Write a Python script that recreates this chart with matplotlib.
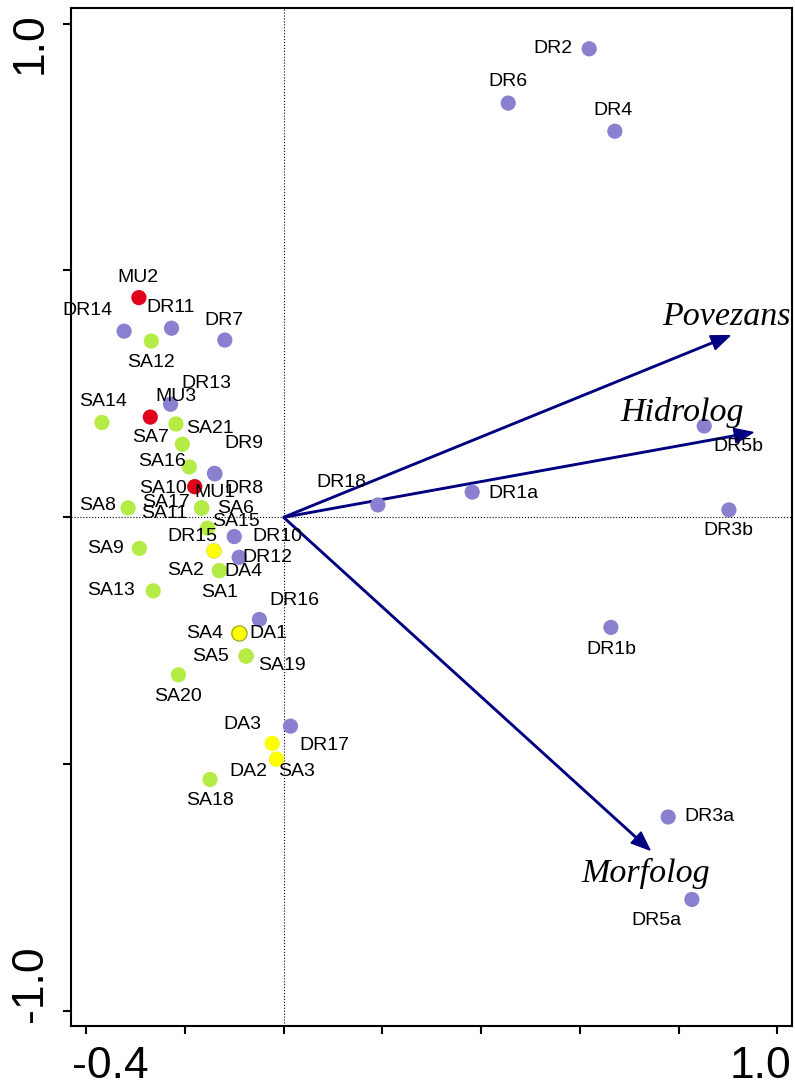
import matplotlib
matplotlib.use("Agg")
import matplotlib.pyplot as plt

plt.rcParams['font.family'] = ['Liberation Sans', 'DejaVu Sans']

# site scores (axis 1, axis 2)
dr_names = ["DR2", "DR6", "DR4", "DR14", "DR11", "DR7", "DR13", "DR9", "DR8", "DR15",
            "DR10", "DR12", "DR16", "DR17", "DR18", "DR1a", "DR5b", "DR3b", "DR1b", "DR3a", "DR5a"]
dr_x = [0.619, 0.455, 0.671, -0.323, -0.227, -0.119, -0.229, -0.140, -0.139, -0.141,
        -0.100, -0.090, -0.049, 0.014, 0.191, 0.382, 0.852, 0.902, 0.663, 0.779, 0.827]
dr_y = [0.949, 0.839, 0.782, 0.377, 0.383, 0.359, 0.229, 0.089, 0.088, -0.068,
        -0.039, -0.081, -0.207, -0.423, 0.025, 0.051, 0.185, 0.015, -0.223, -0.607, -0.774]

sa_names = ["SA12", "SA14", "SA21", "SA7", "SA16", "SA10", "SA8", "SA17", "SA11", "SA6",
            "SA15", "SA9", "SA2", "SA1", "SA13", "SA4", "SA5", "SA19", "SA20", "SA3", "SA18"]
sa_x = [-0.268, -0.368, -0.218, -0.205, -0.191, -0.180, -0.315, -0.166, -0.166, -0.166,
        -0.154, -0.292, -0.130, -0.130, -0.264, -0.091, -0.076, -0.076, -0.213, -0.014, -0.149]
sa_y = [0.357, 0.192, 0.189, 0.148, 0.102, 0.062, 0.019, 0.019, 0.019, 0.019,
        -0.022, -0.063, -0.108, -0.108, -0.149, -0.235, -0.281, -0.281, -0.319, -0.490, -0.531]

mu_names = ["MU2", "MU3", "MU1"]
mu_x = [-0.293, -0.270, -0.180]
mu_y = [0.445, 0.203, 0.062]

da_names = ["DA4", "DA1", "DA3", "DA2"]
da_x = [-0.141, -0.091, -0.023, -0.014]
da_y = [-0.068, -0.235, -0.458, -0.490]

# environmental variables (arrow tips)
env_names = ["Povezans", "Hidrolog", "Morfolog"]
env_x = [0.904, 0.951, 0.742]
env_y = [0.368, 0.172, -0.674]

# label placement, pixels from the point (right, down)
label_off = {
    "DR2": (-36, 0), "DR6": (0, -22), "DR4": (-2, -21), "DR14": (-37, -21), "DR11": (-1, -21),
    "DR7": (-1, -20), "DR13": (36, -21), "DR9": (29, -30), "DR8": (29, 15), "DR15": (-22, -14),
    "DR10": (43, 0), "DR12": (28, 0), "DR16": (35, -19), "DR17": (34, 19), "DR18": (-37, -22),
    "DR1a": (41, 1), "DR5b": (34, 21), "DR3b": (-1, 21), "DR1b": (0, 22), "DR3a": (41, 0),
    "DR5a": (-35, 21),
    "MU2": (-1, -20), "MU3": (26, -21), "MU1": (20, 6),
    "SA12": (0, 21), "SA14": (1, -21), "SA21": (34, 5), "SA7": (-32, -7), "SA16": (-27, -5),
    "SA10": (-32, 2), "SA8": (-31, -2), "SA17": (-36, -5), "SA11": (-37, 6), "SA6": (34, 1),
    "SA15": (28, -7), "SA9": (-34, 0), "SA2": (-34, 0), "SA1": (0, 22), "SA13": (-42, 0),
    "SA4": (-34, 0), "SA5": (-36, 0), "SA19": (36, 9), "SA20": (0, 22), "SA3": (20, 12),
    "SA18": (0, 21),
    "DA4": (29, 21), "DA1": (30, 0), "DA3": (-30, -19), "DA2": (-28, 12),
}
env_off = {"Povezans": (-3, -19), "Hidrolog": (-71, -20), "Morfolog": (-4, 23)}

PURPLE = "#8A80D0"
GREEN = "#B5EB45"
RED = "#E0001B"
YELLOW = "#FFFF00"
NAVY = "#000080"

fig = plt.figure(figsize=(7.95, 10.86), dpi=100)
ax = fig.add_axes([71 / 795, 1 - 1026 / 1086, 721 / 795, 1017.7 / 1086])
ax.set_xlim(-0.4306, 1.0298)
ax.set_ylim(-1.0304, 1.031)

ax.axhline(0, color="black", ls=":", lw=0.8, zorder=1)
ax.axvline(0, color="black", ls=":", lw=0.8, zorder=1)

for name, ex, ey in zip(env_names, env_x, env_y):
    ax.arrow(0, 0, ex, ey, width=0.003, head_width=0.03, head_length=0.038,
             length_includes_head=True, color=NAVY, zorder=2)
    dx, dy = env_off[name]
    ax.annotate(name, (ex, ey), xytext=(dx, -dy), textcoords="offset pixels",
                ha="center", va="center", fontsize=24.5, style="italic",
                family="Liberation Serif", zorder=5)

groups = [(dr_names, dr_x, dr_y, PURPLE),
          (sa_names, sa_x, sa_y, GREEN),
          (mu_names, mu_x, mu_y, RED),
          (da_names, da_x, da_y, YELLOW)]
for names, xs, ys, col in groups:
    ax.scatter(xs, ys, s=120, color=col, edgecolors="none", zorder=3)
    for n, px, py in zip(names, xs, ys):
        dx, dy = label_off[n]
        ax.annotate(n, (px, py), xytext=(dx, -dy), textcoords="offset pixels",
                    ha="center", va="center", fontsize=14, zorder=4)

# outline of the DA1 / SA4 overlap
ax.scatter([da_x[1]], [da_y[1]], s=120, color=YELLOW, edgecolors="#9A9A2A",
           linewidths=0.8, zorder=3.5)

ax.set_xticks([-0.4, -0.2, 0.0, 0.2, 0.4, 0.6, 0.8, 1.0])
ax.set_yticks([-1.0, -0.5, 0.0, 0.5, 1.0])
ax.set_xticklabels([])
ax.set_yticklabels([])
ax.tick_params(direction="out", length=6, width=1.5, top=False, right=False)
for sp in ax.spines.values():
    sp.set_linewidth(1.5)

fig.text(72 / 795, 1 - 1066 / 1086, "-0.4", ha="left", va="center", fontsize=32)
fig.text(791 / 795, 1 - 1066 / 1086, "1.0", ha="right", va="center", fontsize=32)
fig.text(30 / 795, 1 - 12 / 1086, "1.0", rotation=90, ha="center", va="top", fontsize=32)
fig.text(30 / 795, 1 - 1022 / 1086, "-1.0", rotation=90, ha="center", va="bottom", fontsize=32)

fig.savefig("out.png", dpi=100)
